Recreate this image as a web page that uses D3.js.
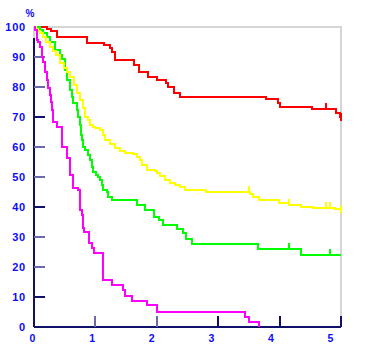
<!DOCTYPE html>
<html><head><meta charset="utf-8">
<script src="https://cdn.jsdelivr.net/npm/d3@7"></script>
<style>body{margin:0;background:#fff}svg{display:block}</style>
</head><body><svg id="c" width="365" height="360"></svg>
<script>
const yTicks = [0,10,20,30,40,50,60,70,80,90,100];
const xTicks = [0,1,2,3,4,5];
const unitLabel = "%";

const redT = [0,0.21,0.28,0.37,0.86,1.14,1.24,1.27,1.32,1.63,1.71,1.86,2.00,2.15,2.18,2.28,2.38,3.78,3.97,4.01,4.53,4.92,4.98];
const redS = [100,99.3,98.7,96.8,94.6,94.0,93.0,91.7,89.0,87.3,85.0,83.4,82.3,81.2,80.1,78.1,76.8,76.0,74.6,73.4,72.6,71.2,70.1];
const redCens = [4.76,5];

const yellowT = [0,0.03,0.07,0.10,0.15,0.20,0.26,0.31,0.36,0.42,0.49,0.54,0.59,0.65,0.70,0.75,0.80,0.83,0.88,0.91,0.96,0.99,1.07,1.12,1.16,1.24,1.32,1.40,1.48,1.61,1.68,1.73,1.76,1.84,1.97,2.00,2.05,2.13,2.21,2.30,2.38,2.46,2.80,3.52,3.57,3.66,3.99,4.15,4.35,4.54,4.90];
const yellowS = [100,99.3,98.7,98.0,96.7,95.0,93.3,92.0,90.7,88.0,86.3,85.0,83.3,80.7,78.0,75.7,73.0,70.0,69.0,67.3,66.7,66.3,65.7,64.0,62.3,61.0,59.7,58.7,58.0,57.7,56.7,55.7,54.0,52.3,52.0,51.3,50.3,49.0,48.0,47.3,46.7,45.7,45.0,44.3,43.3,42.3,41.3,40.7,40.0,39.7,39.3];
const yellowCens = [3.50,4.15,4.76,4.82,5];

const greenT = [0,0.10,0.15,0.21,0.26,0.34,0.42,0.46,0.50,0.54,0.59,0.62,0.64,0.70,0.72,0.75,0.77,0.78,0.80,0.83,0.88,0.91,0.94,0.96,1.01,1.04,1.07,1.11,1.12,1.19,1.21,1.27,1.68,1.81,1.95,2.04,2.10,2.33,2.43,2.48,2.57,3.65,4.35];
const greenS = [100,99.0,98.0,96.7,95.0,92.3,90.7,89.3,85.7,82.3,79.0,76.7,74.7,72.3,70.0,67.3,64.0,62.3,60.0,59.0,57.3,55.7,53.3,51.7,50.7,50.0,49.0,47.3,45.7,45.0,43.3,42.3,40.7,39.0,36.7,35.7,34.0,32.7,31.3,29.3,27.7,26.0,24.0];
const greenCens = [4.15,4.82];

const magentaT = [0,0.01,0.05,0.07,0.10,0.13,0.15,0.18,0.21,0.23,0.26,0.28,0.29,0.31,0.37,0.46,0.54,0.59,0.64,0.72,0.75,0.78,0.80,0.81,0.90,0.94,0.98,1.12,1.27,1.45,1.48,1.60,1.84,2.00,3.44,3.50,3.66];
const magentaS = [100,99.0,95.7,95.0,93.3,90.0,88.3,85.0,82.3,79.7,77.3,75.0,72.3,68.3,66.7,60.0,56.3,50.7,46.3,45.7,39.0,37.3,33.0,31.7,28.0,26.3,24.7,15.7,14.0,12.3,10.3,8.7,7.3,5.0,3.3,1.7,0];
const magentaCens = [];

const series = [
  {name:"red", color:"#ff0000", t:redT, s:redS, cens:redCens, end:5},
  {name:"green", color:"#00ff00", t:greenT, s:greenS, cens:greenCens, end:5},
  {name:"yellow", color:"#ffff00", t:yellowT, s:yellowS, cens:yellowCens, end:5},
  {name:"magenta", color:"#ff00ff", t:magentaT, s:magentaS, cens:magentaCens, end:null}
];

const svg = d3.select("#c");
const x = d3.scaleLinear().domain([0,5]).range([34,341]);
const y = d3.scaleLinear().domain([0,100]).range([327,27]);
const xLab = d3.scaleLinear().domain([0,5]).range([32.5,330.5]);
const navy = "#10106a";
const blue = "#0a0aff";

// frame (light gray top / right)
svg.append("path").attr("d", `M${x(0)},${y(100)}H${x(5)}V${y(0)}`)
  .attr("fill","none").attr("stroke","#c8c8c8").attr("stroke-width",1.5);
svg.append("line").attr("x1",x(0)).attr("x2",x(0)).attr("y1",y(100)).attr("y2",y(96))
  .attr("stroke","#c8c8c8").attr("stroke-width",1.5);

// left axis + y ticks
svg.append("line").attr("x1",x(0)).attr("x2",x(0)).attr("y1",y(96.3)).attr("y2",y(0))
  .attr("stroke",navy).attr("stroke-width",2);
svg.append("g").selectAll("line").data(yTicks.filter(d=>d>0)).join("line")
  .attr("x1",x(0)).attr("x2",x(0)+11).attr("y1",d=>y(d)).attr("y2",d=>y(d))
  .attr("stroke",(d,i)=>[0,3,6,9].includes(yTicks.length-1-d/10)?navy:"#6a6aa8").attr("stroke-width",2)
  .attr("shape-rendering","crispEdges");
svg.append("g").selectAll("text").data(yTicks).join("text")
  .attr("x",26).attr("y",d=>y(d)).attr("dy","0.36em").attr("text-anchor","end")
  .attr("fill",blue).attr("font-family","Liberation Sans, Arial, sans-serif")
  .attr("font-weight","bold").attr("font-size",11).attr("letter-spacing",0.8)
  .text(d=>d);

// bottom axis + x ticks
svg.append("line").attr("x1",x(0)).attr("x2",x(5)).attr("y1",y(0)).attr("y2",y(0))
  .attr("stroke",navy).attr("stroke-width",2);
svg.append("g").selectAll("line").data(xTicks.filter(d=>d>0)).join("line")
  .attr("x1",d=>x(d)).attr("x2",d=>x(d)).attr("y1",y(0)).attr("y2",y(0)-11)
  .attr("stroke",(d)=>d<=2?"#6a6aa8":navy).attr("stroke-width",2).attr("shape-rendering","crispEdges");
svg.append("g").selectAll("text").data(xTicks).join("text")
  .attr("x",d=>xLab(d)).attr("y",342).attr("text-anchor","middle")
  .attr("fill",blue).attr("font-family","Liberation Sans, Arial, sans-serif")
  .attr("font-weight","bold").attr("font-size",10.5)
  .text(d=>d);

svg.append("text").attr("x",30).attr("y",17).attr("text-anchor","middle")
  .attr("fill",blue).attr("font-family","Liberation Sans, Arial, sans-serif")
  .attr("font-weight","bold").attr("font-size",10).text(unitLabel);

// curves
const line = d3.line().x(d=>x(d[0])).y(d=>y(d[1])).curve(d3.curveStepAfter);
series.forEach(sr=>{
  const pts = sr.t.map((t,i)=>[t,sr.s[i]]);
  if (sr.end !== null) pts.push([sr.end, sr.s[sr.s.length-1]]);
  svg.append("path").datum(pts).attr("d",line)
    .attr("fill","none").attr("stroke",sr.color).attr("stroke-width",2)
    .attr("shape-rendering","crispEdges");
  const valAt = t => { let v=sr.s[0]; sr.t.forEach((tt,i)=>{ if(tt<=t) v=sr.s[i]; }); return v; };
  svg.append("g").selectAll("line").data(sr.cens).join("line")
    .attr("x1",d=>x(d)).attr("x2",d=>x(d))
    .attr("y1",d=>y(valAt(d))-(d>=5?4:6)).attr("y2",d=>y(valAt(d))+(d>=5?4:1))
    .attr("stroke",sr.color).attr("stroke-width",2).attr("shape-rendering","crispEdges");
});
</script></body></html>
